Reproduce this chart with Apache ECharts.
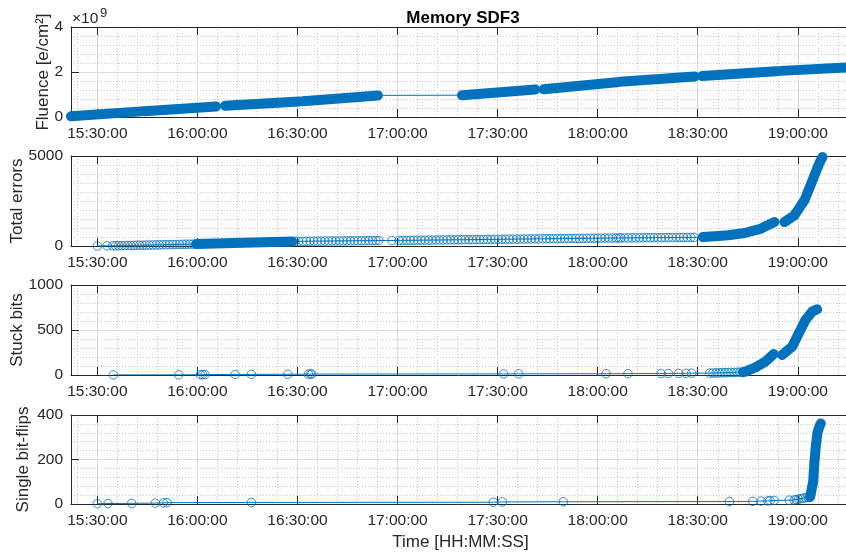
<!DOCTYPE html>
<html><head><meta charset="utf-8">
<script src="https://cdn.jsdelivr.net/npm/echarts@6/dist/echarts.min.js"></script>
<style>html,body{margin:0;padding:0;background:#fff}#c{width:846px;height:556px}</style>
</head><body><div id="c"></div><script>
// ---- data (times are minutes after 15:00:00; null separates runs) ----
const xTickLabels = ['15:30:00','16:00:00','16:30:00','17:00:00','17:30:00','18:00:00','18:30:00','19:00:00'];
const xLimits = [22.1, 254.45];

// Fluence, in units of 1e9 e/cm^2
const fluenceT = [22.1, 43.2, null, 44.2, 65.6, null, 68.3, 90.5, null, 91.6, 114.1, null, 139.3, 161.3, null, 163.8, 185.7, null, 186.7, 209.1, null, 211.3, 233.5, null, 234.8, 254.45];
const fluenceV = [0.03, 0.25, null, 0.26, 0.47, null, 0.50, 0.69, null, 0.70, 0.96, null, 0.97, 1.22, null, 1.23, 1.54, null, 1.57, 1.80, null, 1.82, 2.03, null, 2.05, 2.20];

// Total errors: separate samples (rings) and dense runs (bands)
const errRingT = [30, 32.9,
  34.6, 35.5, 36.4, 37.3, 38.2, 39.1, 40, 40.9, 41.8, 42.7, 43.6,
  44.6, 45.6, 46.6, 47.6, 48.6, 49.6, 50.6, 51.6, 52.6, 53.6, 54.6, 55.6, 56.6, 57.6, 58.6,
  89.2, 90.3, 91.6, 92.7, 93.8, 94.9, 96, 97.1, 98.2, 99.3, 100.4, 101.5, 102.6, 103.7, 104.8, 105.9, 107, 108.1, 109.2, 110.3, 111.4, 112.5, 113.5, 114.4,
  118.3, 120.5, 121.6, 122.7, 123.8, 124.9, 126, 127.1, 128.2, 129.3, 130.4, 131.5, 132.6, 133.7, 134.8, 135.9, 137, 138.1, 139.2, 140.3, 141.4, 142.5, 143.6, 144.7, 145.8, 146.9, 148, 149.1, 150.2, 151.3, 152.4, 153.5, 154.6, 155.7, 156.8, 157.9, 159, 160.1, 161.2, 162.3,
  163.5, 164.6, 165.7, 166.8, 167.9, 169, 170.1, 171.2, 172.3, 173.4, 174.5, 175.6, 176.7, 177.8, 178.9, 180, 181.1, 182.2, 183.3, 184.4, 185.5, 186.3,
  187, 188.1, 189.2, 190.3, 191.4, 192.5, 193.6, 194.7, 195.8, 196.9, 198, 199.1, 200.2, 201.3, 202.4, 203.5, 204.6, 205.7, 206.8, 207.9, 208.9];
const errRingV = [0, 8,
  12, 15, 18, 22, 25, 28, 30, 34, 37, 40, 44,
  48, 52, 56, 60, 64, 68, 72, 76, 80, 84, 88, 92, 96, 100, 105,
  258, 260, 262, 264, 266, 268, 270, 272, 274, 276, 278, 280, 282, 284, 286, 288, 290, 292, 294, 296, 298, 300, 302, 304,
  308, 310, 312, 314, 316, 318, 320, 323, 325, 327, 330, 332, 334, 337, 339, 341, 344, 346, 348, 351, 353, 355, 358, 360, 362, 365, 367, 369, 372, 374, 376, 379, 381, 383, 386, 388, 390, 393, 395, 398,
  400, 402, 404, 406, 409, 411, 413, 415, 418, 420, 422, 424, 427, 429, 431, 433, 436, 438, 440, 442, 444, 446,
  447, 449, 450, 452, 453, 455, 456, 458, 459, 461, 462, 464, 465, 467, 468, 470, 471, 473, 474, 476, 478];
const errBandT = [59.6, 74, 88.4, null, 211.5, 215, 219.1, 224.1, 229, 233, null, 236, 239, 242, 244.4, 246.4, 247.4];
const errBandV = [110, 180, 255, null, 500, 540, 594, 722, 967, 1333, null, 1333, 1706, 2539, 3650, 4578, 4944];

// Stuck bits
const stuckRingT = [34.8, 54.4, 60.9, 61.6, 62.3, 71.3, 76.2, 87.1, 93.3, 93.9, 94.3, 151.8, 156.3, 182.5, 189.1, 199, 201.2, 204.3, 206.5, 208.2,
  213.6, 214.6, 215.5, 216.4, 217.3, 218.2, 219.1, 220, 220.9, 221.8, 222.7, 223.6];
const stuckRingV = [1, 2, 3, 4, 5, 6, 7, 8, 9, 10, 11, 12, 13, 14, 15, 16, 17, 18, 19, 20,
  21, 22, 23, 24, 25, 26, 27, 28, 29, 30, 31, 32];
const stuckBandT = [223.6, 224.3, 227.3, 230.3, 232.8, null, 235.3, 238.3, 240.3, 242.3, 244.3, 245.8];
const stuckBandV = [32, 37, 85, 148, 233, null, 222, 315, 463, 611, 704, 730];

// Single bit-flips
const flipRingT = [30, 33.2, 40.3, 47.4, 49.8, 50.9, 76.2, 148.7, 151.4, 169.7, 219.5, 226.5, 229, 231, 231.7, 232.9, 237.4, 238.9,
  239.5, 240.2, 240.9, 241.6, 242.3, 243, 243.7];
const flipRingV = [1, 2, 3, 4, 5, 6, 7, 8, 9, 10, 11, 12, 13, 14, 15, 16, 17, 18,
  20, 22, 24, 26, 28, 30, 32];
const flipBandT = [243.7, 244.6, 245, 245.4, 245.9, 246.5, 246.9];
const flipBandV = [32, 100, 190, 260, 320, 350, 362];

// ---- styling / construction ----
const C = '#0072BD', AX = '#262626', GRIDC = '#dcdcdc', MINORC = '#c4c4c4';
const FONT = '"Liberation Sans", Arial, Helvetica, sans-serif';
const tMin = s => { const p = s.split(':').map(Number); return (p[0] - 15) * 60 + p[1] + (p[2] || 0) / 60; };
const fmt = v => { const tot = Math.round((v + 900) * 60); const h = Math.floor(tot / 3600), m = Math.floor(tot % 3600 / 60), s = tot % 60; return [h, m, s].map(n => String(n).padStart(2, '0')).join(':'); };
const majorX = xTickLabels.map(tMin);
const minorX = [];
for (let v = 24; v < xLimits[1]; v += 6) if (!majorX.some(m => Math.abs(m - v) < 1e-6)) minorX.push(v);

const pts = (T, V) => { const o = []; T.forEach((t, k) => { if (t != null) o.push([t, V[k]]); }); return o; };
const runs = (T, V) => { const r = [[]]; T.forEach((t, k) => { if (t == null) r.push([]); else r[r.length - 1].push([t, V[k]]); }); return r.filter(a => a.length); };

const panels = [
  {top: 27, height: 90, max: 4, interval: 2, minor: 5, name: 'Fluence [e/cm²]', gap: 19, bandT: fluenceT, bandV: fluenceV, ringT: [], ringV: []},
  {top: 156, height: 90, max: 5000, interval: 5000, minor: 10, name: 'Total errors', gap: 45, bandT: errBandT, bandV: errBandV, ringT: errRingT, ringV: errRingV},
  {top: 285, height: 90, max: 1000, interval: 500, minor: 5, name: 'Stuck bits', gap: 45, bandT: stuckBandT, bandV: stuckBandV, ringT: stuckRingT, ringV: stuckRingV},
  {top: 415, height: 89, max: 400, interval: 200, minor: 5, name: 'Single bit-flips', gap: 39, bandT: flipBandT, bandV: flipBandV, ringT: flipRingT, ringV: flipRingV}
];

const grid = [], xAxis = [], yAxis = [], series = [];
const labelStyle = {color: AX, fontSize: 15.5, fontFamily: FONT};
panels.forEach((p, i) => {
  grid.push({left: 71, right: -2, top: p.top, height: p.height});
  const base = {type: 'value', gridIndex: i, min: xLimits[0], max: xLimits[1]};
  xAxis.push(Object.assign({}, base, {
    position: 'bottom',
    axisLine: {show: true, lineStyle: {color: AX, width: 1}},
    axisTick: {show: true, inside: true, length: 8, customValues: majorX, lineStyle: {color: AX}},
    axisLabel: Object.assign({show: true, margin: 9, customValues: majorX, formatter: v => fmt(v)}, labelStyle),
    splitLine: {show: true, lineStyle: {color: GRIDC, width: 1}},
    name: i === 3 ? 'Time [HH:MM:SS]' : '', nameLocation: 'middle', nameGap: 30, nameMoveOverlap: false,
    nameTextStyle: {color: AX, fontSize: 17, fontFamily: FONT, padding: [0, 0, 0, 4]}
  }));
  xAxis.push(Object.assign({}, base, {
    position: 'top',
    axisLine: {show: true, onZero: false, lineStyle: {color: AX, width: 1}},
    axisTick: {show: true, inside: true, length: 8, customValues: majorX, lineStyle: {color: AX}},
    axisLabel: {show: false}, splitLine: {show: false}
  }));
  xAxis.push(Object.assign({}, base, {
    position: 'bottom',
    axisLine: {show: false}, axisLabel: {show: false},
    axisTick: {show: false, customValues: minorX},
    splitLine: {show: true, lineStyle: {color: MINORC, width: 1, type: [1, 2]}}
  }));
  yAxis.push({
    type: 'value', gridIndex: i, min: 0, max: p.max, interval: p.interval,
    axisLine: {show: true, lineStyle: {color: AX, width: 1}},
    axisTick: {show: true, inside: true, length: 8, lineStyle: {color: AX}},
    axisLabel: Object.assign({margin: 8, formatter: v => String(v)}, labelStyle),
    splitLine: {show: true, lineStyle: {color: GRIDC, width: 1}},
    minorTick: {show: false, splitNumber: p.minor},
    minorSplitLine: {show: true, lineStyle: {color: MINORC, width: 1, type: [1, 2]}},
    name: p.name, nameLocation: 'middle', nameRotate: 90, nameGap: p.gap, nameMoveOverlap: false,
    nameTextStyle: {color: AX, fontSize: 17, fontFamily: FONT}
  });
  const xi = i * 3;
  const all = pts(p.bandT, p.bandV).concat(pts(p.ringT, p.ringV)).sort((a, b) => a[0] - b[0]);
  series.push({type: 'line', xAxisIndex: xi, yAxisIndex: i, data: all, symbol: 'none',
    lineStyle: {color: C, width: 1}, silent: true, z: 3});
  runs(p.bandT, p.bandV).forEach(r => series.push({type: 'line', xAxisIndex: xi, yAxisIndex: i, data: r, symbol: 'none', clip: false,
    lineStyle: {color: C, width: 10, cap: 'round', join: 'round'}, silent: true, z: 4}));
  if (p.ringT.length) series.push({type: 'scatter', xAxisIndex: xi, yAxisIndex: i, data: pts(p.ringT, p.ringV),
    symbol: 'circle', symbolSize: 8.5, clip: false, silent: true, z: 5,
    itemStyle: {color: 'rgba(0,0,0,0)', borderColor: C, borderWidth: 1}});
});

const chart = echarts.init(document.getElementById('c'), null, {renderer: 'canvas'});
chart.setOption({
  animation: false,
  backgroundColor: '#fff',
  title: {text: 'Memory SDF3', left: 458, top: 5, textAlign: 'center',
    textStyle: {color: '#000', fontSize: 17, fontWeight: 'bold', fontFamily: FONT}},
  graphic: [
    {type: 'text', left: 72, top: 10.5, style: {text: '×10', fill: AX, font: '15.5px ' + FONT}},
    {type: 'text', left: 100, top: 6.5, style: {text: '9', fill: AX, font: '13px ' + FONT}}
  ],
  grid, xAxis, yAxis, series
});
</script></body></html>
